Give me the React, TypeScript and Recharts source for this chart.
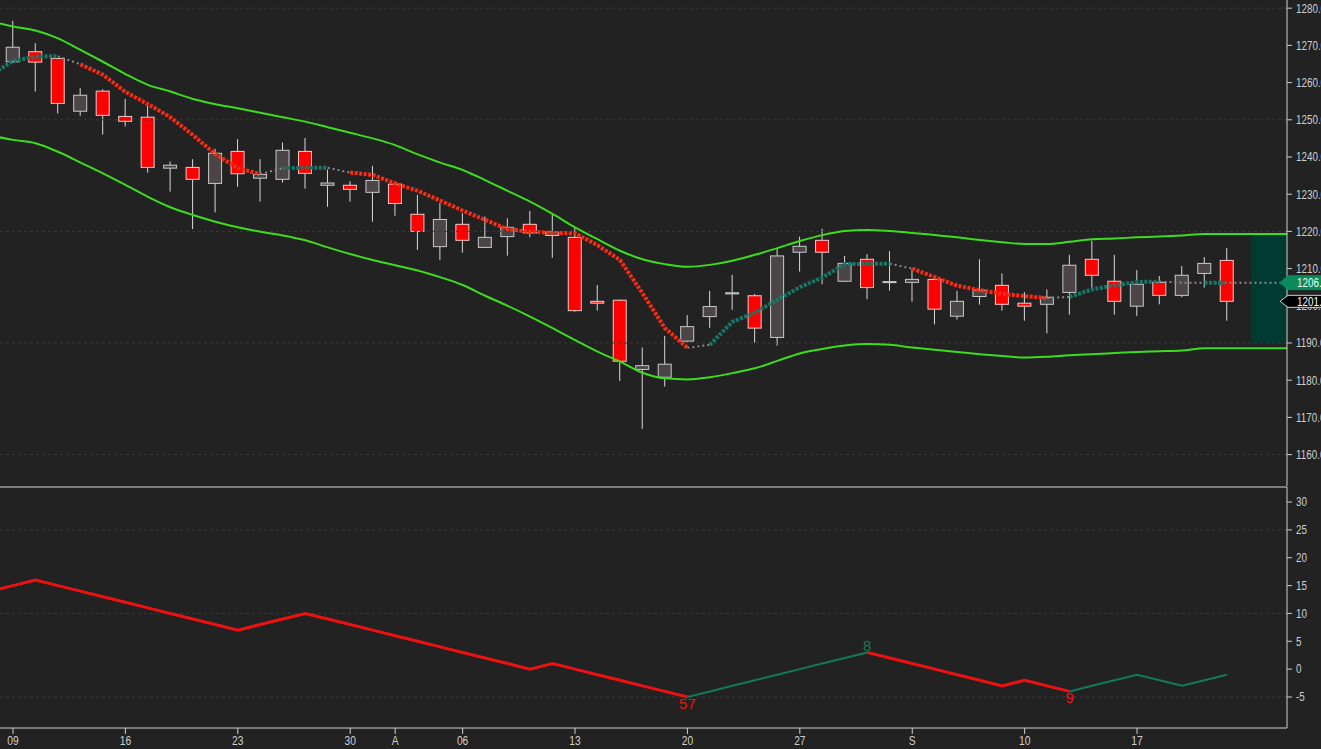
import React from 'react';
import {
  ComposedChart,
  Line,
  Bar,
  XAxis,
  YAxis,
  ReferenceLine,
  ReferenceArea,
  ReferenceDot,
} from 'recharts';

// ---------- layout constants (not data) ----------
const W = 1321;
const MAIN_H = 486;
const LOWER_H = 263;
const AXIS_W = 34;
const TAG_AXIS_W = 1;
const PLOT_RIGHT = W - AXIS_W;
const FONT = '"Liberation Sans", Arial, sans-serif';
const NARROW = 0.82;
const BG = '#222222';
const AXIS_COLOR = '#cfcfcf';

// ---------- categories / ticks ----------
const xDomain: [number, number] = [-0.578, 56.67];
const xTickIndex = [0, 5, 10, 15, 17, 20, 25, 30, 35, 40, 45, 50];
const xTickLabels = ['09', '16', '23', '30', 'A', '06', '13', '20', '27', 'S', '10', '17'];

const priceDomain: [number, number] = [1151.56, 1282.2];
const priceTicks = [1160, 1170, 1180, 1190, 1200, 1210, 1220, 1230, 1240, 1250, 1260, 1270, 1280];
const priceGrid = [1160, 1190, 1220, 1250, 1280];

const oscDomain: [number, number] = [-10.57, 32.7];
const oscTicks = [-5, 0, 5, 10, 15, 20, 25, 30];
const oscGrid = [-5, 10, 25];

// ---------- candles (index 0 .. 54) ----------
const candleStart = 0;
const opens = [
  1265.6, 1268.3, 1266.5, 1252.3, 1257.7, 1250.9, 1250.7, 1237.0, 1237.2, 1232.9,
  1241.5, 1234.3, 1234.0, 1241.5, 1232.4, 1232.4, 1230.5, 1232.7, 1224.6, 1215.9,
  1221.9, 1215.7, 1218.6, 1221.9, 1218.9, 1218.4, 1201.2, 1201.5, 1182.9, 1180.8,
  1190.5, 1197.1, 1203.2, 1202.7, 1191.5, 1214.4, 1217.6, 1206.6, 1212.5, 1206.3,
  1206.3, 1207.1, 1197.2, 1202.5, 1205.5, 1200.7, 1200.4, 1203.6, 1212.5, 1206.6,
  1199.9, 1206.3, 1202.8, 1208.7, 1212.2,
];
const highs = [
  1276.6, 1270.6, 1266.6, 1258.5, 1258.2, 1255.6, 1254.6, 1238.8, 1239.4, 1242.2,
  1244.8, 1239.4, 1243.9, 1245.1, 1236.6, 1233.5, 1237.6, 1233.4, 1229.8, 1227.6,
  1224.9, 1224.0, 1223.5, 1225.5, 1224.6, 1221.1, 1205.6, 1201.7, 1188.8, 1191.9,
  1197.5, 1204.0, 1208.3, 1203.2, 1215.5, 1218.6, 1220.7, 1213.4, 1213.9, 1214.7,
  1209.8, 1207.8, 1204.0, 1212.5, 1208.7, 1203.7, 1204.4, 1213.7, 1217.5, 1213.7,
  1209.6, 1208.0, 1210.7, 1213.1, 1215.5,
];
const lows = [
  1265.3, 1257.6, 1251.7, 1251.1, 1246.0, 1248.2, 1235.8, 1230.7, 1220.6, 1225.1,
  1232.0, 1228.0, 1233.1, 1231.5, 1226.6, 1228.0, 1222.6, 1224.2, 1215.0, 1212.3,
  1214.3, 1215.5, 1213.5, 1218.4, 1212.9, 1198.4, 1198.7, 1179.8, 1166.9, 1178.3,
  1190.2, 1194.1, 1198.9, 1190.1, 1189.3, 1209.2, 1205.8, 1206.4, 1201.8, 1204.1,
  1201.1, 1195.0, 1196.3, 1200.3, 1198.7, 1196.0, 1192.6, 1197.6, 1204.8, 1197.6,
  1197.3, 1200.4, 1202.3, 1204.9, 1196.0,
];
const closes = [
  1269.5, 1265.5, 1254.4, 1256.6, 1251.2, 1249.6, 1237.2, 1237.8, 1234.0, 1241.0,
  1235.5, 1235.3, 1241.8, 1235.6, 1233.0, 1231.3, 1233.7, 1227.5, 1220.0, 1223.2,
  1217.6, 1218.4, 1221.1, 1219.6, 1219.9, 1198.7, 1200.7, 1185.1, 1183.9, 1184.3,
  1194.4, 1199.8, 1203.5, 1194.0, 1213.4, 1216.0, 1214.4, 1211.4, 1204.9, 1206.5,
  1207.1, 1199.1, 1201.2, 1204.2, 1200.4, 1199.9, 1202.3, 1210.9, 1208.2, 1201.2,
  1205.8, 1202.8, 1208.2, 1211.4, 1201.2,
];

// ---------- bands and moving average (index -1 .. 57) ----------
const lineStart = -1;
const upperBand = [
  1276.5, 1275.1, 1274.0, 1271.9, 1268.8, 1265.6, 1262.3, 1259.4, 1257.6, 1255.6,
  1254.2, 1253.1, 1251.9, 1250.7, 1249.5, 1248.0, 1246.5, 1245.0, 1243.2, 1240.7,
  1238.5, 1236.5, 1233.8, 1230.9, 1228.0, 1224.7, 1221.1, 1217.9, 1214.8, 1212.5,
  1211.2, 1210.5, 1211.0, 1212.1, 1213.7, 1215.5, 1217.4, 1219.0, 1220.1, 1220.4,
  1220.1, 1219.6, 1219.0, 1218.4, 1217.7, 1217.1, 1216.6, 1216.6, 1217.2, 1217.9,
  1218.1, 1218.4, 1218.6, 1218.9, 1219.3, 1219.3, 1219.3, 1219.3, 1219.3,
];
const lowerBand = [
  1245.8, 1244.6, 1243.7, 1241.4, 1238.5, 1235.6, 1232.5, 1229.3, 1226.5, 1224.4,
  1222.6, 1221.1, 1219.9, 1218.9, 1217.6, 1215.7, 1213.9, 1212.3, 1210.9, 1209.5,
  1207.7, 1205.6, 1202.7, 1200.0, 1197.1, 1194.0, 1190.8, 1187.7, 1185.0, 1182.0,
  1180.5, 1180.2, 1180.8, 1181.9, 1183.2, 1185.2, 1187.2, 1188.4, 1189.3, 1189.7,
  1189.5, 1188.8, 1188.2, 1187.6, 1187.0, 1186.5, 1186.1, 1186.3, 1186.7, 1187.0,
  1187.3, 1187.6, 1187.8, 1188.0, 1188.6, 1188.6, 1188.6, 1188.6, 1188.6,
];
const maValues = [
  1262.0, 1265.8, 1267.0, 1267.1, 1264.9, 1262.1, 1257.5, 1254.2, 1250.7, 1245.9,
  1240.8, 1237.0, 1235.4, 1237.0, 1237.1, 1237.1, 1235.8, 1235.2, 1232.9, 1230.9,
  1228.3, 1225.6, 1223.1, 1220.6, 1219.9, 1219.6, 1219.5, 1216.3, 1212.3, 1203.4,
  1194.0, 1188.7, 1189.5, 1195.7, 1198.1, 1201.6, 1205.0, 1207.6, 1211.2, 1211.3,
  1211.3, 1210.0, 1207.7, 1205.4, 1204.2, 1203.2, 1202.6, 1202.1, 1202.4, 1204.4,
  1205.5, 1206.4, 1206.5, 1206.2, 1206.2, 1206.2, 1206.2, 1206.2, 1206.2,
];
// colour of each segment between consecutive MA points: up / down / neutral
const maSegments = [
  'up', 'up', 'up', 'flat',
  'down', 'down', 'down', 'down', 'down', 'down', 'down', 'down',
  'flat', 'up', 'up', 'flat',
  'down', 'down', 'down', 'down', 'down', 'down', 'down', 'down', 'down', 'down',
  'down', 'down', 'down', 'down', 'down',
  'flat', 'up', 'up', 'up', 'up', 'up', 'up', 'up', 'up',
  'flat', 'down', 'down', 'down', 'down', 'down', 'down',
  'flat', 'up', 'up', 'up', 'up',
  'flat', 'flat', 'up', 'flat', 'flat', 'flat',
];
const lastClose = 1201.2;
const lastMA = 1206.2;
const priceTags = [
  { value: lastMA, fill: '#0b8a5c', stroke: '#0b8a5c', color: '#eafff5', half: 7 },
  { value: lastClose, fill: '#000000', stroke: '#cfcfcf', color: '#ffffff', half: 6 },
];
const projectionZone = { from: 55.06, to: 56.67, low: 1189.9, high: 1219.5 };

// ---------- oscillator (index -1 .. 54) ----------
const oscStart = -1;
const oscValues = [
  14, 15, 16, 15, 14, 13, 12, 11, 10, 9, 8, 7, 8, 9, 10, 9, 8, 7, 6, 5,
  4, 3, 2, 1, 0, 1, 0, -1, -2, -3, -4, -5, -4, -3, -2, -1, 0, 1, 2, 3,
  2, 1, 0, -1, -2, -3, -2, -3, -4, -3, -2, -1, -2, -3, -2, -1,
];
const oscSegments = [
  ...Array(31).fill('down'),
  ...Array(8).fill('up'),
  ...Array(9).fill('down'),
  ...Array(7).fill('up'),
];
const oscLabels = [
  { i: 30, value: -5, text: '57', kind: 'down', position: 'bottom' },
  { i: 38, value: 3, text: '8', kind: 'up', position: 'top' },
  { i: 47, value: -4, text: '9', kind: 'down', position: 'bottom' },
];

// ---------- build table ----------
const segValue = (
  values: number[],
  segs: string[],
  start: number,
  i: number,
  kind: string
): number | null => {
  const k = i - start;
  if (k < 0 || k >= values.length) return null;
  const before = segs[k - 1] === kind;
  const after = segs[k] === kind;
  return before || after ? values[k] : null;
};

const rows: any[] = [];
for (let i = -1; i <= 57; i++) {
  const ci = i - candleStart;
  const hasCandle = ci >= 0 && ci < opens.length;
  const li = i - lineStart;
  rows.push({
    i,
    range: hasCandle ? [lows[ci], highs[ci]] : null,
    o: hasCandle ? opens[ci] : null,
    h: hasCandle ? highs[ci] : null,
    l: hasCandle ? lows[ci] : null,
    c: hasCandle ? closes[ci] : null,
    upper: li >= 0 && li < upperBand.length ? upperBand[li] : null,
    lower: li >= 0 && li < lowerBand.length ? lowerBand[li] : null,
    maUp: segValue(maValues, maSegments, lineStart, i, 'up'),
    maDown: segValue(maValues, maSegments, lineStart, i, 'down'),
    maFlat: segValue(maValues, maSegments, lineStart, i, 'flat'),
    oscDown: segValue(oscValues, oscSegments, oscStart, i, 'down'),
    oscUp: segValue(oscValues, oscSegments, oscStart, i, 'up'),
  });
}

// ---------- shapes ----------
const Candle = (props: any) => {
  const { x, y, width, height, payload } = props;
  if (!payload || payload.o == null || !(height > 0)) return null;
  const { o, h, l, c } = payload;
  const span = h - l;
  const pix = (v: number) => y + ((h - v) / span) * height;
  const cx = x + width / 2;
  const up = c >= o;
  const top = pix(Math.max(o, c));
  const bot = pix(Math.min(o, c));
  return (
    <g>
      <line x1={cx} x2={cx} y1={y} y2={y + height} stroke="#d9d9d9" strokeWidth={1} />
      <rect
        x={x + 0.5}
        y={top}
        width={width - 1}
        height={Math.max(bot - top, 1)}
        fill={up ? '#4b4548' : '#ff0000'}
        stroke={up ? '#c9c9c9' : '#f2c9c9'}
        strokeWidth={1}
      />
    </g>
  );
};

const NarrowText = (props: any) => {
  const { x, y, text, anchor, dy, fill, size } = props;
  return (
    <text
      transform={`translate(${x},${y}) scale(${NARROW},1)`}
      x={0}
      y={0}
      dy={dy}
      textAnchor={anchor}
      fill={fill}
      fontSize={size}
      fontFamily={FONT}
    >
      {text}
    </text>
  );
};

const PriceTick = (props: any) => {
  const { x, y, payload } = props;
  return (
    <NarrowText x={x} y={y} text={Number(payload.value).toFixed(1)} anchor="start" dy="0.36em" fill={AXIS_COLOR} size={12} />
  );
};

const OscTick = (props: any) => {
  const { x, y, payload } = props;
  return <NarrowText x={x} y={y} text={String(payload.value)} anchor="start" dy="0.36em" fill={AXIS_COLOR} size={12} />;
};

const DateTick = (props: any) => {
  const { x, y, payload } = props;
  const label = xTickLabels[xTickIndex.indexOf(payload.value)] ?? '';
  return <NarrowText x={x} y={y} text={label} anchor="middle" dy="0.74em" fill={AXIS_COLOR} size={12.5} />;
};

const TagTick = (props: any) => {
  const { y, payload } = props;
  const tag = priceTags.find((t) => t.value === payload.value);
  if (!tag) return null;
  const x0 = PLOT_RIGHT;
  const hf = tag.half;
  const pts = [
    [x0 - 7, y],
    [x0 + 1, y - hf],
    [W + 4, y - hf],
    [W + 4, y + hf],
    [x0 + 1, y + hf],
  ]
    .map((p) => p.join(','))
    .join(' ');
  return (
    <g>
      <polygon points={pts} fill={tag.fill} stroke={tag.stroke} strokeWidth={1} />
      <NarrowText x={x0 + 10} y={y} text={tag.value.toFixed(1)} anchor="start" dy="0.36em" fill={tag.color} size={12} />
    </g>
  );
};

export default function App() {
  return (
    <div
      style={{
        position: 'fixed',
        left: 0,
        top: 0,
        width: W,
        height: MAIN_H + LOWER_H,
        background: BG,
        overflow: 'hidden',
      }}
    >
      <ComposedChart
        width={W + TAG_AXIS_W}
        height={MAIN_H}
        data={rows}
        margin={{ top: 0, right: 0, bottom: 0, left: 0 }}
      >
        <XAxis dataKey="i" type="number" domain={xDomain} allowDataOverflow hide />
        <YAxis
          orientation="right"
          width={AXIS_W}
          domain={priceDomain}
          allowDataOverflow
          ticks={priceTicks}
          interval={0}
          tick={(p: any) => <PriceTick {...p} />}
          tickSize={5}
          tickMargin={4}
          axisLine={{ stroke: AXIS_COLOR }}
          tickLine={{ stroke: AXIS_COLOR }}
        />
        {priceGrid.map((v) => (
          <ReferenceLine key={v} y={v} stroke="#3a3a3a" strokeDasharray="3 3" />
        ))}
        <ReferenceArea
          x1={projectionZone.from}
          x2={projectionZone.to}
          y1={projectionZone.low}
          y2={projectionZone.high}
          fill="#003a30"
          fillOpacity={1}
          stroke="none"
          ifOverflow="hidden"
        />
        <Line dataKey="upper" type="monotone" stroke="#3ddc1f" strokeWidth={2} dot={false} isAnimationActive={false} />
        <Line dataKey="lower" type="monotone" stroke="#3ddc1f" strokeWidth={2} dot={false} isAnimationActive={false} />
        <Line
          dataKey="maFlat"
          type="linear"
          stroke="#8a8a8a"
          strokeWidth={2}
          strokeDasharray="2 3"
          dot={false}
          isAnimationActive={false}
        />
        <Bar dataKey="range" barSize={14} isAnimationActive={false} shape={(p: any) => <Candle {...p} />} />
        <Line
          dataKey="maDown"
          type="linear"
          stroke="#ff2a12"
          strokeWidth={4}
          strokeDasharray="3 1.5"
          dot={false}
          isAnimationActive={false}
        />
        <Line
          dataKey="maUp"
          type="linear"
          stroke="#177868"
          strokeWidth={4}
          strokeDasharray="3 1.5"
          dot={false}
          isAnimationActive={false}
        />
        <YAxis
          yAxisId="tags"
          orientation="right"
          width={TAG_AXIS_W}
          domain={priceDomain}
          allowDataOverflow
          ticks={priceTags.map((t) => t.value)}
          interval={0}
          tickSize={0}
          tickMargin={0}
          axisLine={false}
          tickLine={false}
          tick={(p: any) => <TagTick {...p} />}
        />
      </ComposedChart>
      <ComposedChart
        width={W}
        height={LOWER_H}
        data={rows}
        margin={{ top: 0, right: 0, bottom: 0, left: 0 }}
      >
        <XAxis
          dataKey="i"
          type="number"
          domain={xDomain}
          allowDataOverflow
          ticks={xTickIndex}
          interval={0}
          tick={(p: any) => <DateTick {...p} />}
          tickSize={6}
          tickMargin={2}
          height={21}
          axisLine={{ stroke: AXIS_COLOR }}
          tickLine={{ stroke: AXIS_COLOR }}
        />
        <XAxis
          xAxisId="top"
          dataKey="i"
          type="number"
          orientation="top"
          domain={xDomain}
          allowDataOverflow
          height={1}
          tick={false}
          tickLine={false}
          axisLine={{ stroke: '#d8d8d8' }}
        />
        <YAxis
          orientation="right"
          width={AXIS_W}
          domain={oscDomain}
          allowDataOverflow
          ticks={oscTicks}
          interval={0}
          tick={(p: any) => <OscTick {...p} />}
          tickSize={5}
          tickMargin={4}
          axisLine={{ stroke: AXIS_COLOR }}
          tickLine={{ stroke: AXIS_COLOR }}
        />
        {oscGrid.map((v) => (
          <ReferenceLine key={v} y={v} stroke="#3a3a3a" strokeDasharray="3 3" />
        ))}
        <Line dataKey="oscUp" type="linear" stroke="#127a5a" strokeWidth={2} dot={false} isAnimationActive={false} />
        <Line dataKey="oscDown" type="linear" stroke="#ee1111" strokeWidth={3} dot={false} isAnimationActive={false} />
        {oscLabels.map((lb) => (
          <ReferenceDot
            key={lb.i}
            x={lb.i}
            y={lb.value}
            r={1}
            fill="none"
            stroke="none"
            label={{
              value: lb.text,
              position: lb.position as any,
              offset: 0,
              fill: lb.kind === 'down' ? '#ee1111' : '#127a5a',
              fontSize: 15,
              fontFamily: FONT,
            }}
          />
        ))}
      </ComposedChart>
    </div>
  );
}
